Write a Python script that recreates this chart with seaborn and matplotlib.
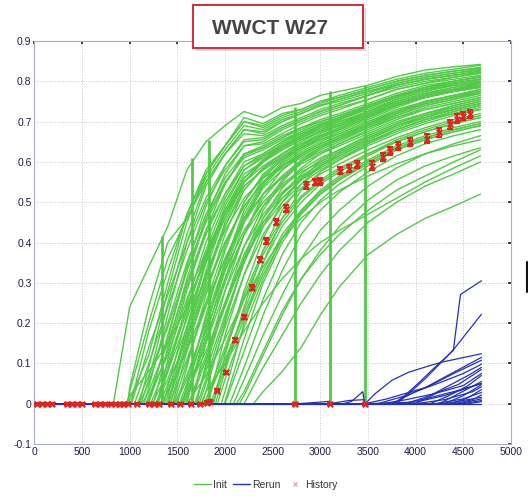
import matplotlib
matplotlib.use("Agg")
import matplotlib.pyplot as plt
from matplotlib.lines import Line2D
from matplotlib.patches import Rectangle
import pandas as pd
import seaborn as sns

# ---------------- data ----------------
# Simulation days at which the ensemble water cut is tabulated
grid_days = [1000, 1200, 1400, 1600, 1800, 2000, 2200, 2400, 2600,
             2800, 3000, 3200, 3500, 3800, 4100, 4400, 4680]

# Initial ensemble: breakthrough day and water cut on grid_days (0 before breakthrough)
init_onset = [830, 975, 990, 980, 1020, 1050, 1080, 1100, 1100, 1130,
              1150, 1170, 1180, 1200, 1220, 1240, 1250, 1270, 1290, 1300,
              1320, 1330, 1350, 1360, 1380, 1400, 1420, 1430, 1450, 1470,
              1480, 1500, 1520, 1530, 1550, 1570, 1590, 1600, 1600, 1620,
              1640, 1650, 1680, 1700, 1710, 1730, 1750, 1760, 1780, 1790,
              1820, 1850, 1880, 1900, 1920, 1960, 2000, 2050, 2090, 2120,
              2150, 2200, 2300,
              1010, 1120, 1190, 1280, 1340, 1410, 1460, 1540, 1560, 1690,
              1810, 1990, 1870, 965]
init_wct = [
    [.24, .34, .44, .58, .65, .69, .725, .71, .735, .745, .765, .775, .79, .812, .828, .836, .842],
    [.03, .20, .36, .46, .55, .62, .68, .67, .70, .72, .74, .75, .77, .795, .81, .82, .83],
    [.01, .12, .30, .47, .58, .64, .70, .685, .71, .725, .745, .76, .78, .80, .815, .825, .835],
    [.04, .24, .40, .46, .56, .63, .69, .68, .705, .72, .74, .755, .775, .79, .805, .815, .822],
    [0, .14, .27, .40, .51, .59, .65, .655, .685, .705, .725, .74, .765, .79, .805, .815, .825],
    [0, .10, .24, .38, .50, .58, .64, .65, .68, .70, .72, .735, .755, .78, .795, .805, .815],
    [0, .07, .19, .33, .45, .545, .615, .635, .66, .68, .70, .715, .74, .765, .785, .80, .81],
    [0, .05, .20, .35, .47, .56, .62, .64, .665, .685, .70, .715, .74, .765, .78, .795, .805],
    [0, .09, .28, .45, .57, .64, .71, .695, .72, .73, .75, .765, .785, .805, .82, .83, .84],
    [0, .03, .15, .30, .43, .52, .60, .62, .65, .67, .69, .705, .73, .755, .775, .79, .80],
    [0, .04, .22, .40, .54, .62, .67, .665, .69, .71, .73, .745, .765, .79, .805, .815, .825],
    [0, .02, .12, .26, .38, .47, .55, .59, .62, .645, .665, .68, .71, .74, .76, .775, .79],
    [0, .01, .16, .34, .49, .59, .655, .66, .685, .705, .725, .74, .765, .785, .80, .81, .82],
    [0, 0, .17, .33, .46, .55, .61, .63, .655, .675, .695, .71, .735, .76, .78, .79, .80],
    [0, 0, .10, .24, .37, .47, .54, .58, .61, .635, .655, .67, .70, .725, .745, .76, .775],
    [0, 0, .08, .21, .35, .46, .55, .60, .63, .655, .675, .69, .715, .745, .765, .78, .79],
    [0, 0, .14, .31, .46, .57, .64, .645, .67, .695, .715, .73, .755, .78, .795, .81, .82],
    [0, 0, .06, .19, .32, .43, .51, .56, .59, .615, .64, .66, .69, .715, .74, .755, .77],
    [0, 0, .11, .28, .43, .545, .62, .635, .66, .685, .705, .72, .745, .77, .79, .80, .81],
    [0, 0, .08, .25, .40, .51, .59, .615, .64, .665, .685, .70, .725, .75, .77, .785, .795],
    [0, 0, .05, .16, .29, .40, .49, .55, .585, .61, .635, .655, .685, .71, .73, .745, .76],
    [0, 0, .03, .13, .25, .36, .45, .52, .565, .60, .625, .645, .675, .705, .73, .745, .76],
    [0, 0, .04, .22, .38, .50, .58, .61, .64, .66, .68, .70, .725, .75, .77, .78, .79],
    [0, 0, .02, .19, .36, .49, .58, .615, .645, .67, .69, .705, .735, .76, .78, .795, .805],
    [0, 0, .01, .14, .28, .40, .49, .55, .59, .62, .645, .665, .695, .72, .745, .76, .775],
    [0, 0, 0, .18, .35, .48, .57, .60, .63, .655, .675, .69, .72, .745, .765, .78, .79],
    [0, 0, 0, .11, .24, .36, .46, .52, .56, .595, .62, .64, .67, .70, .72, .74, .755],
    [0, 0, 0, .15, .31, .45, .55, .60, .635, .66, .685, .705, .735, .76, .78, .795, .805],
    [0, 0, 0, .13, .30, .44, .54, .58, .615, .64, .665, .685, .715, .74, .76, .775, .785],
    [0, 0, 0, .07, .20, .33, .43, .50, .545, .58, .61, .63, .665, .695, .72, .735, .75],
    [0, 0, 0, .06, .21, .35, .46, .535, .58, .615, .64, .66, .69, .72, .745, .76, .77],
    [0, 0, 0, .09, .27, .42, .53, .585, .62, .65, .675, .695, .725, .755, .775, .79, .80],
    [0, 0, 0, .05, .18, .31, .42, .49, .54, .575, .60, .625, .66, .69, .71, .73, .745],
    [0, 0, 0, .03, .16, .30, .42, .51, .565, .605, .635, .655, .69, .72, .745, .76, .775],
    [0, 0, 0, .04, .22, .38, .50, .57, .61, .64, .665, .685, .715, .745, .765, .78, .795],
    [0, 0, 0, .02, .15, .28, .39, .47, .525, .565, .595, .62, .655, .685, .71, .73, .745],
    [0, 0, 0, .01, .17, .33, .46, .545, .595, .63, .655, .675, .705, .735, .76, .775, .785],
    [0, 0, 0, 0, .19, .35, .48, .56, .605, .635, .66, .68, .71, .74, .76, .775, .79],
    [0, 0, 0, 0, .07, .16, .26, .34, .41, .46, .50, .53, .565, .595, .62, .64, .655],
    [0, 0, 0, 0, .12, .25, .37, .46, .52, .56, .59, .615, .65, .68, .705, .725, .74],
    [0, 0, 0, 0, .11, .24, .36, .45, .51, .555, .59, .615, .65, .68, .705, .72, .73],
    [0, 0, 0, 0, .15, .31, .45, .54, .59, .625, .65, .67, .70, .73, .75, .765, .78],
    [0, 0, 0, 0, .08, .22, .35, .45, .51, .555, .585, .61, .645, .675, .70, .72, .735],
    [0, 0, 0, 0, .10, .28, .42, .52, .58, .62, .645, .665, .695, .725, .75, .765, .775],
    [0, 0, 0, 0, .06, .21, .35, .46, .535, .585, .62, .645, .68, .71, .735, .75, .765],
    [0, 0, 0, 0, .05, .19, .32, .42, .49, .535, .57, .595, .63, .66, .685, .705, .72],
    [0, 0, 0, 0, .03, .10, .18, .25, .31, .36, .40, .43, .47, .51, .55, .585, .615],
    [0, 0, 0, 0, .03, .20, .36, .48, .55, .60, .63, .65, .685, .715, .74, .755, .77],
    [0, 0, 0, 0, .01, .11, .22, .33, .42, .48, .525, .56, .60, .635, .66, .68, .695],
    [0, 0, 0, 0, .01, .14, .27, .38, .46, .515, .555, .585, .62, .655, .68, .70, .715],
    [0, 0, 0, 0, 0, .17, .32, .44, .52, .57, .605, .63, .665, .695, .72, .74, .755],
    [0, 0, 0, 0, 0, .10, .23, .35, .44, .50, .545, .575, .615, .65, .675, .695, .71],
    [0, 0, 0, 0, 0, .12, .28, .41, .50, .56, .60, .625, .66, .69, .715, .735, .75],
    [0, 0, 0, 0, 0, .08, .24, .38, .48, .545, .59, .62, .655, .69, .715, .73, .745],
    [0, 0, 0, 0, 0, .06, .19, .31, .41, .48, .53, .565, .605, .64, .665, .685, .70],
    [0, 0, 0, 0, 0, .03, .20, .35, .46, .53, .575, .605, .645, .68, .705, .725, .74],
    [0, 0, 0, 0, 0, 0, .13, .26, .37, .45, .505, .545, .59, .63, .655, .675, .69],
    [0, 0, 0, 0, 0, 0, .09, .22, .33, .42, .48, .525, .575, .615, .645, .665, .68],
    [0, 0, 0, 0, 0, 0, .06, .17, .27, .36, .43, .48, .54, .585, .62, .645, .665],
    [0, 0, 0, 0, 0, 0, .03, .13, .23, .31, .37, .42, .48, .53, .565, .60, .63],
    [0, 0, 0, 0, 0, 0, .02, .12, .22, .31, .38, .44, .505, .555, .59, .615, .635],
    [0, 0, 0, 0, 0, 0, 0, .09, .17, .25, .32, .38, .45, .50, .54, .57, .60],
    [0, 0, 0, 0, 0, 0, 0, .03, .08, .14, .22, .29, .37, .42, .46, .49, .52],
    [0, .18, .33, .47, .57, .64, .70, .69, .715, .73, .75, .76, .78, .80, .815, .825, .832],
    [0, .06, .25, .42, .55, .62, .68, .675, .70, .72, .74, .755, .775, .795, .81, .82, .828],
    [0, .005, .13, .29, .42, .52, .59, .62, .65, .675, .695, .71, .74, .765, .785, .795, .805],
    [0, 0, .09, .23, .37, .48, .56, .605, .635, .66, .68, .695, .72, .75, .77, .785, .798],
    [0, 0, .03, .17, .32, .44, .53, .585, .62, .645, .67, .69, .72, .745, .765, .78, .79],
    [0, 0, 0, .16, .33, .47, .56, .605, .64, .665, .69, .71, .74, .765, .785, .80, .812],
    [0, 0, 0, .10, .25, .39, .50, .565, .605, .635, .66, .68, .71, .74, .76, .775, .785],
    [0, 0, 0, .04, .19, .34, .47, .55, .60, .635, .66, .68, .71, .74, .765, .78, .79],
    [0, 0, 0, .03, .13, .25, .36, .44, .50, .545, .58, .605, .64, .67, .695, .715, .73],
    [0, 0, 0, 0, .09, .25, .39, .49, .555, .60, .635, .66, .695, .725, .75, .765, .78],
    [0, 0, 0, 0, 0, .13, .26, .37, .45, .51, .55, .58, .62, .65, .675, .695, .71],
    [0, 0, 0, 0, 0, .005, .16, .30, .40, .47, .52, .555, .60, .635, .66, .68, .695],
    [0, 0, 0, 0, 0, .09, .21, .32, .41, .475, .52, .555, .595, .63, .655, .675, .69],
    [.02, .08, .15, .24, .36, .47, .56, .60, .64, .665, .69, .705, .735, .76, .78, .795, .805],
]

# Shut-in days (all initial runs drop to zero) and the highest cut reached there
shutin_days = [1340, 1650, 1835, 2731, 3098, 3465]
shutin_top = [0.415, 0.61, 0.655, 0.735, 0.775, 0.79]

# Rerun ensemble: (day, water cut) breakpoints per run
rerun_days = [
    [0, 3770, 3890, 4060, 4200, 4395, 4470, 4690],
    [0, 3800, 3950, 4100, 4250, 4400, 4690],
    [0, 3470, 3575, 3750, 3925, 4100, 4270, 4690],
    [0, 3240, 3330, 3445, 3465, 4000, 4300, 4690],
    [0, 2760, 3000, 3095, 3100, 3300, 3460, 3465, 3700, 4100, 4690],
    [0, 3600, 3900, 4150, 4400, 4690],
    [0, 3750, 4000, 4250, 4500, 4690],
    [0, 3900, 4150, 4350, 4550, 4690],
    [0, 4000, 4250, 4450, 4690],
    [0, 3650, 3900, 4200, 4500, 4690],
    [0, 4150, 4350, 4550, 4690],
    [0, 4250, 4450, 4690],
    [0, 3850, 4100, 4400, 4690],
    [0, 4300, 4500, 4690],
    [0, 4000, 4300, 4600, 4690],
    [0, 4380, 4550, 4690],
    [0, 4200, 4500, 4690],
    [0, 4400, 4600, 4690],
    [0, 4300, 4690],
    [0, 4450, 4690],
    [0, 4500, 4690],
    [0, 4550, 4690],
    [0, 4690],
]
rerun_wct = [
    [0, 0, 0.021, 0.058, 0.09, 0.132, 0.271, 0.305],
    [0, 0, 0.03, 0.062, 0.098, 0.135, 0.222],
    [0, 0, 0.025, 0.058, 0.078, 0.091, 0.103, 0.124],
    [0, 0, 0.006, 0.03, 0, 0.004, 0.02, 0.05],
    [0, 0, 0.004, 0.006, 0, 0.008, 0.01, 0, 0.012, 0.04, 0.115],
    [0, 0, 0.02, 0.045, 0.075, 0.108],
    [0, 0, 0.03, 0.052, 0.075, 0.098],
    [0, 0, 0.02, 0.045, 0.07, 0.09],
    [0, 0, 0.03, 0.048, 0.085],
    [0, 0, 0.01, 0.025, 0.045, 0.075],
    [0, 0, 0.02, 0.045, 0.07],
    [0, 0, 0.025, 0.055],
    [0, 0, 0.012, 0.03, 0.05],
    [0, 0, 0.02, 0.047],
    [0, 0, 0.01, 0.03, 0.042],
    [0, 0, 0.015, 0.035],
    [0, 0, 0.012, 0.028],
    [0, 0, 0.01, 0.022],
    [0, 0, 0.016],
    [0, 0, 0.012],
    [0, 0, 0.008],
    [0, 0, 0.005],
    [0, 0],
]

# Observed history with measurement error
hist_days = [30, 85, 135, 190, 345, 400, 450, 505, 640, 690, 740, 805, 850,
             895, 935, 985, 1075, 1205, 1255, 1310, 1430, 1530, 1645, 1740,
             1815, 1840, 1918, 2008, 2110, 2200, 2288, 2365, 2435, 2532, 2637,
             2731, 2847, 2941, 3000, 3098, 3210, 3301, 3385, 3465, 3545, 3657,
             3734, 3814, 3943, 4118, 4244, 4363, 4432, 4495, 4572]
hist_wct = [0, 0, 0, 0, 0, 0, 0, 0, 0, 0, 0, 0, 0,
            0, 0, 0, 0, 0, 0, 0, 0, 0, 0, 0,
            0.003, 0.005, 0.032, 0.078, 0.158, 0.214, 0.288, 0.357, 0.404, 0.451, 0.484,
            0, 0.541, 0.550, 0.552, 0, 0.578, 0.583, 0.594, 0, 0.591, 0.613,
            0.627, 0.639, 0.649, 0.658, 0.674, 0.693, 0.707, 0.714, 0.719]
hist_err = [0.002, 0.002, 0.002, 0.002, 0.002, 0.002, 0.002, 0.002, 0.002, 0.002, 0.002, 0.002, 0.002,
            0.002, 0.002, 0.002, 0.002, 0.002, 0.002, 0.002, 0.002, 0.002, 0.002, 0.002,
            0.003, 0.003, 0.004, 0.004, 0.005, 0.005, 0.006, 0.006, 0.007, 0.007, 0.008,
            0.002, 0.008, 0.008, 0.009, 0.002, 0.009, 0.009, 0.009, 0.002, 0.010, 0.010,
            0.010, 0.010, 0.010, 0.010, 0.011, 0.011, 0.011, 0.011, 0.011]

x_ticks = [0, 500, 1000, 1500, 2000, 2500, 3000, 3500, 4000, 4500, 5000]
y_ticks = [-0.1, 0, 0.1, 0.2, 0.3, 0.4, 0.5, 0.6, 0.7, 0.8, 0.9]

GREEN = "#52ca48"
BLUE = "#2231b8"
RED = "#e0231f"

# ---------------- long-form tables ----------------
rows = []
for run, (onset, vals) in enumerate(zip(init_onset, init_wct)):
    rows.append((run, 0, 0.0))
    rows.append((run, onset, 0.0))
    for d, v in zip(grid_days, vals):
        if d > onset:
            rows.append((run, d, v))
init_df = pd.DataFrame(rows, columns=["run", "day", "wct"])

rows = []
for run, (ds, vs) in enumerate(zip(rerun_days, rerun_wct)):
    for d, v in zip(ds, vs):
        rows.append((run, d, v))
rerun_df = pd.DataFrame(rows, columns=["run", "day", "wct"])

hist_df = pd.DataFrame({"day": hist_days, "wct": hist_wct, "err": hist_err})

# ---------------- figure ----------------
sns.set_theme(style="white")
plt.rcParams["font.family"] = ["Liberation Sans", "DejaVu Sans"]

fig = plt.figure(figsize=(5.28, 4.98), dpi=100)
ax = fig.add_axes([0.065, 0.1084, 0.9028, 0.8093])

sns.lineplot(data=init_df, x="day", y="wct", units="run", estimator=None,
             color=GREEN, lw=1.0, sort=False, ax=ax, legend=False)
ax.vlines(shutin_days, 0, shutin_top, color=GREEN, lw=2.0, zorder=2)

sns.lineplot(data=rerun_df, x="day", y="wct", units="run", estimator=None,
             color=BLUE, lw=0.9, sort=False, ax=ax, legend=False, zorder=3)

ax.errorbar(hist_df["day"], hist_df["wct"], yerr=hist_df["err"], fmt="none",
            ecolor=RED, elinewidth=1.6, capsize=2.4, capthick=1.6, zorder=5)
sns.scatterplot(data=hist_df, x="day", y="wct", marker="x", color=RED,
                s=16, linewidth=1.5, ax=ax, zorder=6, legend=False)

ax.set_xlim(0, 5000)
ax.set_ylim(-0.1, 0.9)
ax.set_xticks(x_ticks)
ax.set_yticks(y_ticks)
ax.set_xticklabels([str(t) for t in x_ticks])
ax.set_yticklabels([f"{t:g}" for t in y_ticks])
ax.set_xlabel("")
ax.set_ylabel("")
ax.grid(True, ls=":", color="#c4c4c4", lw=0.7)
ax.set_axisbelow(True)
ax.tick_params(axis="both", labelsize=7.5, colors="#1e1e4a", length=2.5,
               direction="in", pad=2, top=True, right=True)
for sp in ax.spines.values():
    sp.set_color("#a8aec8")
    sp.set_linewidth(0.8)

# Legend
handles = [Line2D([], [], color=GREEN, lw=1.0),
           Line2D([], [], color=BLUE, lw=1.0),
           Line2D([], [], color="#f2a0a0", lw=0, marker="x", ms=3.5, mew=0.9)]
fig.legend(handles, ["Init", "Rerun", "History"], loc="center",
           bbox_to_anchor=(266 / 528, 1 - 485 / 498), ncol=3, frameon=False,
           fontsize=7.5, handlelength=1.6, handletextpad=0.2,
           columnspacing=0.6, labelcolor="#333333")

# Title card
x0, w = 193 / 528, 170 / 528
y0, h = 1 - 48 / 498, 43 / 498
fig.patches.append(Rectangle((x0 + 3 / 528, y0 - 3 / 498), w, h,
                             transform=fig.transFigure, facecolor="#b0b0b0",
                             edgecolor="none", alpha=0.45, zorder=9))
fig.patches.append(Rectangle((x0, y0), w, h, transform=fig.transFigure,
                             facecolor="white", edgecolor="#d8283c",
                             lw=1.4, zorder=10))
fig.text(212 / 528, 1 - 28 / 498, "WWCT W27", fontsize=15, fontweight="bold",
         color="#454545", ha="left", va="center", zorder=11)

# Thin dark edge at the right margin
fig.add_artist(Line2D([526.5 / 528, 526.5 / 528], [1 - 262 / 498, 1 - 292 / 498],
                      transform=fig.transFigure, color="#111111", lw=1.5))

fig.savefig("out.png", dpi=100)
